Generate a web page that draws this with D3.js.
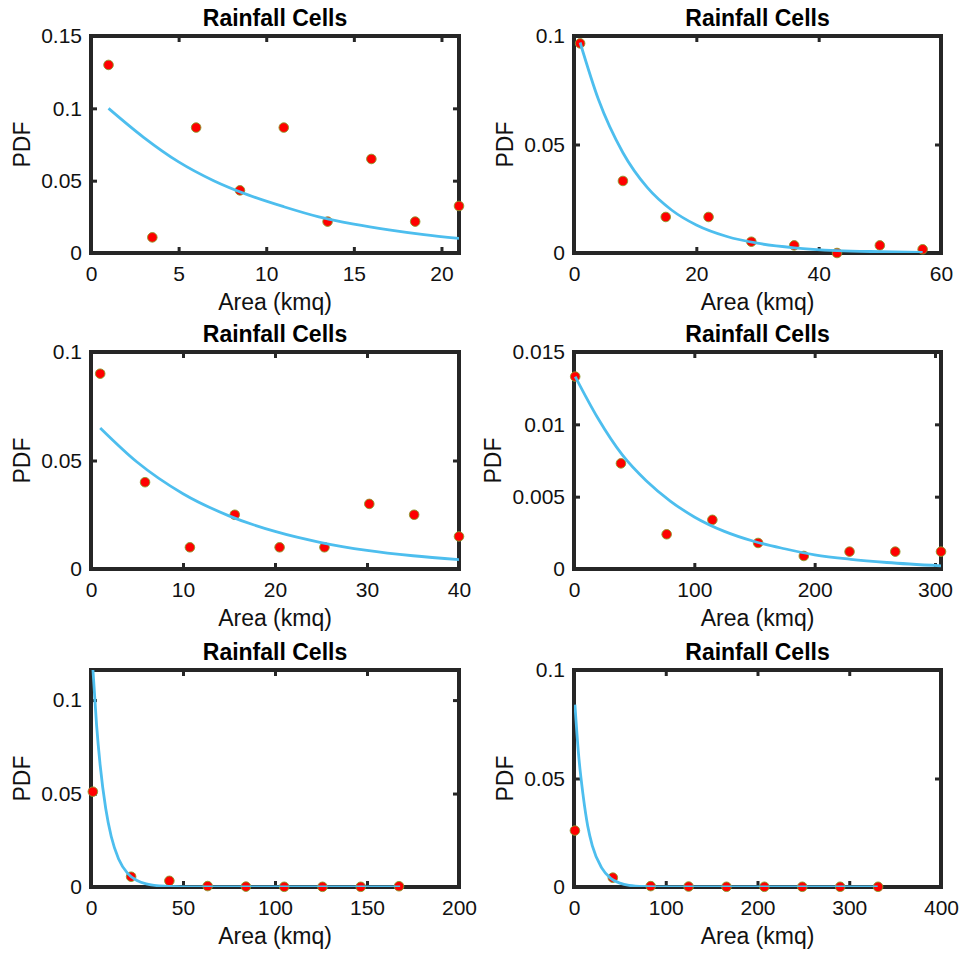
<!DOCTYPE html>
<html>
<head>
<meta charset="utf-8">
<script src="https://cdn.jsdelivr.net/npm/d3@7"></script>
<style>
  body { margin: 0; background: #fff; }
  svg { display: block; font-family: "Liberation Sans", Arial, Helvetica, sans-serif; }
</style>
</head>
<body>
<script>
// panel 1 (top left)
const areaA = [1, 3.5, 6, 8.5, 11, 13.5, 16, 18.5, 21];
const pdfA = [0.130, 0.0108, 0.0867, 0.0433, 0.0867, 0.0217, 0.065, 0.0217, 0.0325];
const fitAreaA = [1, 3, 5, 7, 9, 11, 13, 15, 17, 19, 21];
const fitPdfA = [0.100, 0.080, 0.063, 0.050, 0.040, 0.032, 0.025, 0.020, 0.016, 0.0127, 0.0101];
const xTicksA = [0, 5, 10, 15, 20];
const yTicksA = [0, 0.05, 0.1, 0.15];
const yLabelsA = ["0", "0.05", "0.1", "0.15"];

// panel 2 (top right)
const areaB = [1, 8, 15, 22, 29, 36, 43, 50, 57];
const pdfB = [0.0966, 0.0332, 0.0166, 0.0166, 0.0052, 0.0035, 0, 0.0035, 0.0017];
const fitAreaB = [1, 4, 8, 12, 16, 20, 25, 30, 36, 43, 50, 57];
const fitPdfB = [0.0970, 0.0707, 0.0462, 0.0301, 0.0197, 0.0129, 0.0076, 0.0045, 0.0024, 0.0011, 0.0006, 0.0003];
const xTicksB = [0, 20, 40, 60];
const yTicksB = [0, 0.05, 0.1];
const yLabelsB = ["0", "0.05", "0.1"];

// panel 3 (middle left)
const areaC = [1, 5.875, 10.75, 15.625, 20.5, 25.375, 30.25, 35.125, 40];
const pdfC = [0.090, 0.040, 0.010, 0.025, 0.010, 0.010, 0.030, 0.025, 0.015];
const fitAreaC = [1, 5, 10, 15, 20, 25, 30, 35, 40];
const fitPdfC = [0.065, 0.0493, 0.0347, 0.0245, 0.0173, 0.0122, 0.0086, 0.0061, 0.0043];
const xTicksC = [0, 10, 20, 30, 40];
const yTicksC = [0, 0.05, 0.1];
const yLabelsC = ["0", "0.05", "0.1"];

// panel 4 (middle right)
const areaD = [1, 39, 77, 115, 153, 191, 229, 267, 305];
const pdfD = [0.0133, 0.0073, 0.0024, 0.0034, 0.0018, 0.0009, 0.0012, 0.0012, 0.0012];
const fitAreaD = [1, 20, 40, 60, 80, 100, 125, 150, 175, 200, 230, 260, 305];
const fitPdfD = [0.0133, 0.0104, 0.0079, 0.0061, 0.0047, 0.0036, 0.0026, 0.0019, 0.0014, 0.00098, 0.00067, 0.00045, 0.00022];
const xTicksD = [0, 100, 200, 300];
const yTicksD = [0, 0.005, 0.01, 0.015];
const yLabelsD = ["0", "0.005", "0.01", "0.015"];

// panel 5 (bottom left)
const areaE = [1, 21.8, 42.6, 63.4, 84.2, 105, 125.8, 146.6, 167.4];
const pdfE = [0.051, 0.0055, 0.0033, 0.0005, 0.0002, 0.0001, 0.0001, 0.0001, 0.0004];
const fitAreaE = [1, 3, 5, 8, 11, 15, 20, 25, 30, 40, 50, 70, 100, 130, 168];
const fitPdfE = [0.117, 0.087, 0.065, 0.042, 0.027, 0.015, 0.0072, 0.0035, 0.0017, 0.0004, 0.0001, 0, 0, 0, 0];
const xTicksE = [0, 50, 100, 150, 200];
const yTicksE = [0, 0.05, 0.1];
const yLabelsE = ["0", "0.05", "0.1"];

// panel 6 (bottom right)
const areaF = [1, 42.3, 83.6, 124.9, 166.2, 207.5, 248.8, 290.1, 331.4];
const pdfF = [0.026, 0.0043, 0.0004, 0.0002, 0.0001, 0.0001, 0.0001, 0.0001, 0.0001];
const fitAreaF = [1, 5, 10, 15, 20, 30, 40, 50, 60, 80, 100, 150, 200, 250, 331];
const fitPdfF = [0.084, 0.061, 0.042, 0.028, 0.019, 0.0089, 0.0040, 0.0018, 0.0008, 0.0002, 0, 0, 0, 0, 0];
const xTicksF = [0, 100, 200, 300, 400];
const yTicksF = [0, 0.05, 0.1];
const yLabelsF = ["0", "0.05", "0.1"];

const xMaxes = [21, 60, 40, 305, 200, 400];
const yMaxes = [0.15, 0.1, 0.1, 0.015, 0.1161, 0.1];

const panels = [
  [areaA, pdfA, fitAreaA, fitPdfA, xTicksA, yTicksA, yLabelsA],
  [areaB, pdfB, fitAreaB, fitPdfB, xTicksB, yTicksB, yLabelsB],
  [areaC, pdfC, fitAreaC, fitPdfC, xTicksC, yTicksC, yLabelsC],
  [areaD, pdfD, fitAreaD, fitPdfD, xTicksD, yTicksD, yLabelsD],
  [areaE, pdfE, fitAreaE, fitPdfE, xTicksE, yTicksE, yLabelsE],
  [areaF, pdfF, fitAreaF, fitPdfF, xTicksF, yTicksF, yLabelsF]
].map((p, i) => ({
  area: p[0], pdf: p[1], fitArea: p[2], fitPdf: p[3],
  xTicks: p[4], yTicks: p[5], yLabels: p[6],
  xMax: xMaxes[i], yMax: yMaxes[i]
}));

const W = 961, H = 954;
const colLeft = [91, 574], colRight = [459, 941];
const rowTop = [36, 352, 670], plotH = 217;
const ink = "#262626";

const svg = d3.select("body").append("svg").attr("width", W).attr("height", H);

panels.forEach((p, i) => {
  const c = i % 2, r = Math.floor(i / 2);
  const x0 = colLeft[c], x1 = colRight[c], y0 = rowTop[r], y1 = y0 + plotH;
  const x = d3.scaleLinear().domain([0, p.xMax]).range([x0, x1]);
  const y = d3.scaleLinear().domain([0, p.yMax]).range([y1, y0]);
  const g = svg.append("g");

  g.append("clipPath").attr("id", "clip" + i)
    .append("rect").attr("x", x0).attr("y", y0).attr("width", x1 - x0).attr("height", y1 - y0);

  // box
  g.append("rect").attr("x", x0).attr("y", y0).attr("width", x1 - x0).attr("height", y1 - y0)
    .attr("fill", "none").attr("stroke", ink).attr("stroke-width", 4);

  const style = (sel) => {
    sel.select(".domain").remove();
    sel.selectAll("line").attr("stroke", ink).attr("stroke-width", 3);
    sel.selectAll("text").attr("fill", "#111").style("font-size", "21px")
      .style("font-family", "'Liberation Sans', Arial, sans-serif");
  };

  g.append("g").attr("transform", `translate(0,${y1})`)
    .call(d3.axisBottom(x).tickValues(p.xTicks).tickSizeInner(-6).tickSizeOuter(0).tickPadding(13).tickFormat(d3.format("~g")))
    .call(style);
  g.append("g").attr("transform", `translate(0,${y0})`)
    .call(d3.axisTop(x).tickValues(p.xTicks).tickSizeInner(-6).tickSizeOuter(0).tickFormat(""))
    .call(style);
  const yAx = g.append("g").attr("transform", `translate(${x0},0)`)
    .call(d3.axisLeft(y).tickValues(p.yTicks).tickSizeInner(-6).tickSizeOuter(0).tickPadding(9).tickFormat((d, k) => p.yLabels[k]))
    .call(style);
  g.append("g").attr("transform", `translate(${x1},0)`)
    .call(d3.axisRight(y).tickValues(p.yTicks).tickSizeInner(-6).tickSizeOuter(0).tickFormat(""))
    .call(style);

  // markers
  g.append("g").selectAll("circle").data(p.area).join("circle")
    .attr("cx", d => x(d)).attr("cy", (d, k) => y(p.pdf[k])).attr("r", 4.8)
    .attr("fill", "#ff0000").attr("stroke", "#8a9a2a").attr("stroke-width", 0.9);

  // fitted curve
  const line = d3.line().x(d => x(d[0])).y(d => y(d[1])).curve(d3.curveMonotoneX);
  g.append("path").datum(p.fitArea.map((a, k) => [a, p.fitPdf[k]]))
    .attr("clip-path", `url(#clip${i})`)
    .attr("d", line).attr("fill", "none").attr("stroke", "#4dbeee").attr("stroke-width", 2.8);

  // labels
  g.append("text").attr("x", (x0 + x1) / 2).attr("y", y0 - 10).attr("text-anchor", "middle")
    .style("font-size", "23px").style("font-weight", "bold").attr("fill", "#000").text("Rainfall Cells");
  g.append("text").attr("x", (x0 + x1) / 2).attr("y", y1 + 57).attr("text-anchor", "middle")
    .style("font-size", "23px").attr("fill", "#111").text("Area (kmq)");
  const bb = yAx.node().getBBox();
  const lx = x0 + bb.x - 11;
  g.append("text").attr("transform", `translate(${lx},${(y0 + y1) / 2}) rotate(-90)`)
    .attr("text-anchor", "middle").style("font-size", "23px").attr("fill", "#111").text("PDF");
});
</script>
</body>
</html>
